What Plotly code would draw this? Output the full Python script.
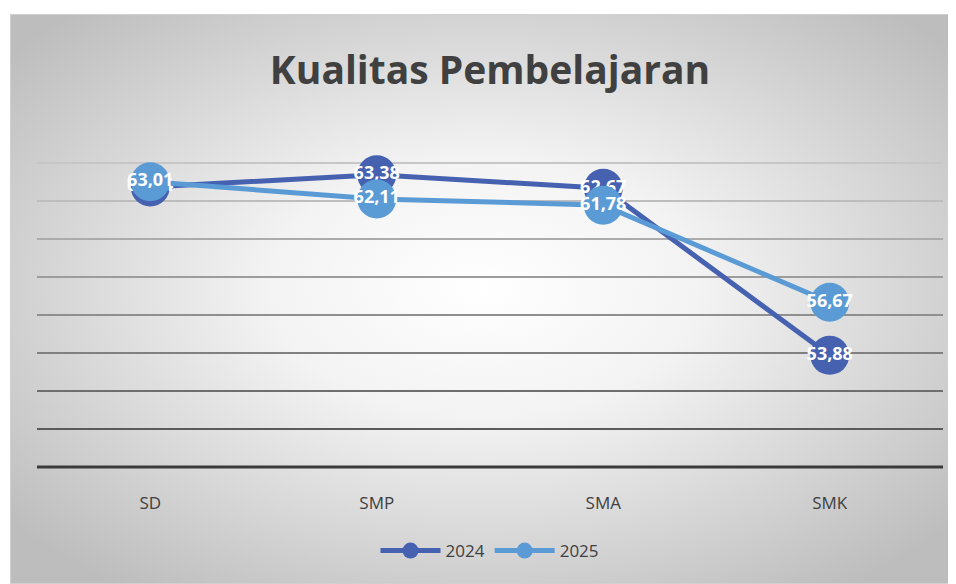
import base64
import plotly.graph_objects as go

# --- Data ------------------------------------------------------------------
categories = ["SD", "SMP", "SMA", "SMK"]
values_2024 = [62.74, 63.38, 62.67, 53.88]
values_2025 = [63.01, 62.11, 61.78, 56.67]
series_names = ["2024", "2025"]
colors = {"2024": "#4561B0", "2025": "#5B9BD5"}
y_grid = [50, 52, 54, 56, 58, 60, 62, 64]
# gridlines get darker toward the bottom, like the original
grid_colors = ["#5a5a5a", "#6e6e6e", "#808080", "#8f8f8f", "#9c9c9c", "#ababab", "#bdbdbd", "#c6c6c6"]

# the page body has an 8px margin, so the figure is drawn 8px in
W, H = 948, 576
m = dict(l=29, r=13, t=117, b=115)
pw = W - m["l"] - m["r"]
ph = H - m["t"] - m["b"]

# radial grey background like the office chart style
svg = (
    '<svg xmlns="http://www.w3.org/2000/svg" width="946" height="570">'
    '<defs><radialGradient id="g" cx="50%" cy="48%" r="65%">'
    '<stop offset="0" stop-color="#ffffff"/><stop offset="0.35" stop-color="#f3f3f3"/>'
    '<stop offset="1" stop-color="#bdbdbd"/>'
    '</radialGradient></defs>'
    '<rect x="0.5" y="0.5" width="945" height="569" fill="url(#g)" stroke="#d0d0d0"/></svg>'
)
bg_src = "data:image/svg+xml;base64," + base64.b64encode(svg.encode()).decode()

def fmt(v):
    return f"{v:.2f}".replace(".", ",")

fig = go.Figure()
for name, vals in zip(series_names, [values_2024, values_2025]):
    fig.add_trace(
        go.Scatter(
            x=categories,
            y=vals,
            name=name,
            mode="lines+markers+text",
            line=dict(color=colors[name], width=5),
            marker=dict(size=39, color=colors[name]),
            text=[fmt(v) for v in vals],
            textposition="middle center",
            textfont=dict(family="Open Sans", size=18, color="white", weight="bold"),
            hoverinfo="skip",
        )
    )

fig.add_layout_image(
    dict(
        source=bg_src,
        xref="paper", yref="paper",
        x=(2 - m["l"]) / pw, y=(H - m["b"] - 6) / ph,
        sizex=(W - 2) / pw, sizey=(H - 6) / ph,
        xanchor="left", yanchor="top",
        sizing="stretch", layer="below",
    )
)

for gy, gc in zip(y_grid, grid_colors):
    fig.add_hline(y=gy, line=dict(color=gc, width=2), layer="below")

fig.update_layout(
    width=W,
    height=H,
    margin=m,
    paper_bgcolor="white",
    plot_bgcolor="rgba(0,0,0,0)",
    font=dict(family="Open Sans", color="#404040"),
    title=dict(
        text="<b>Kualitas Pembelajaran</b>",
        x=(490 - 8) / W, xanchor="center",
        y=1 - 62 / H, yanchor="middle",
        font=dict(size=39, color="#404040", family="Open Sans"),
    ),
    xaxis=dict(
        type="category",
        range=[-0.5, 3.5],
        showgrid=False,
        showline=False,
        zeroline=False,
        ticks="",
        ticklabelstandoff=22,
        tickfont=dict(size=17, color="#404040"),
    ),
    yaxis=dict(
        range=[47.9, 66],
        showticklabels=False,
        showgrid=False,
        showline=False,
        zeroline=False,
    ),
    showlegend=True,
    legend=dict(
        orientation="h",
        x=0.5, xanchor="center",
        y=(H - m["b"] - 543) / ph, yanchor="middle",
        font=dict(size=17, color="#404040"),
        bgcolor="rgba(0,0,0,0)",
        itemwidth=60,
    ),
)

# dark horizontal axis line at the bottom of the plot
fig.add_hline(y=48, line=dict(color="#3a3a3a", width=3))

fig.write_html("out.html")
